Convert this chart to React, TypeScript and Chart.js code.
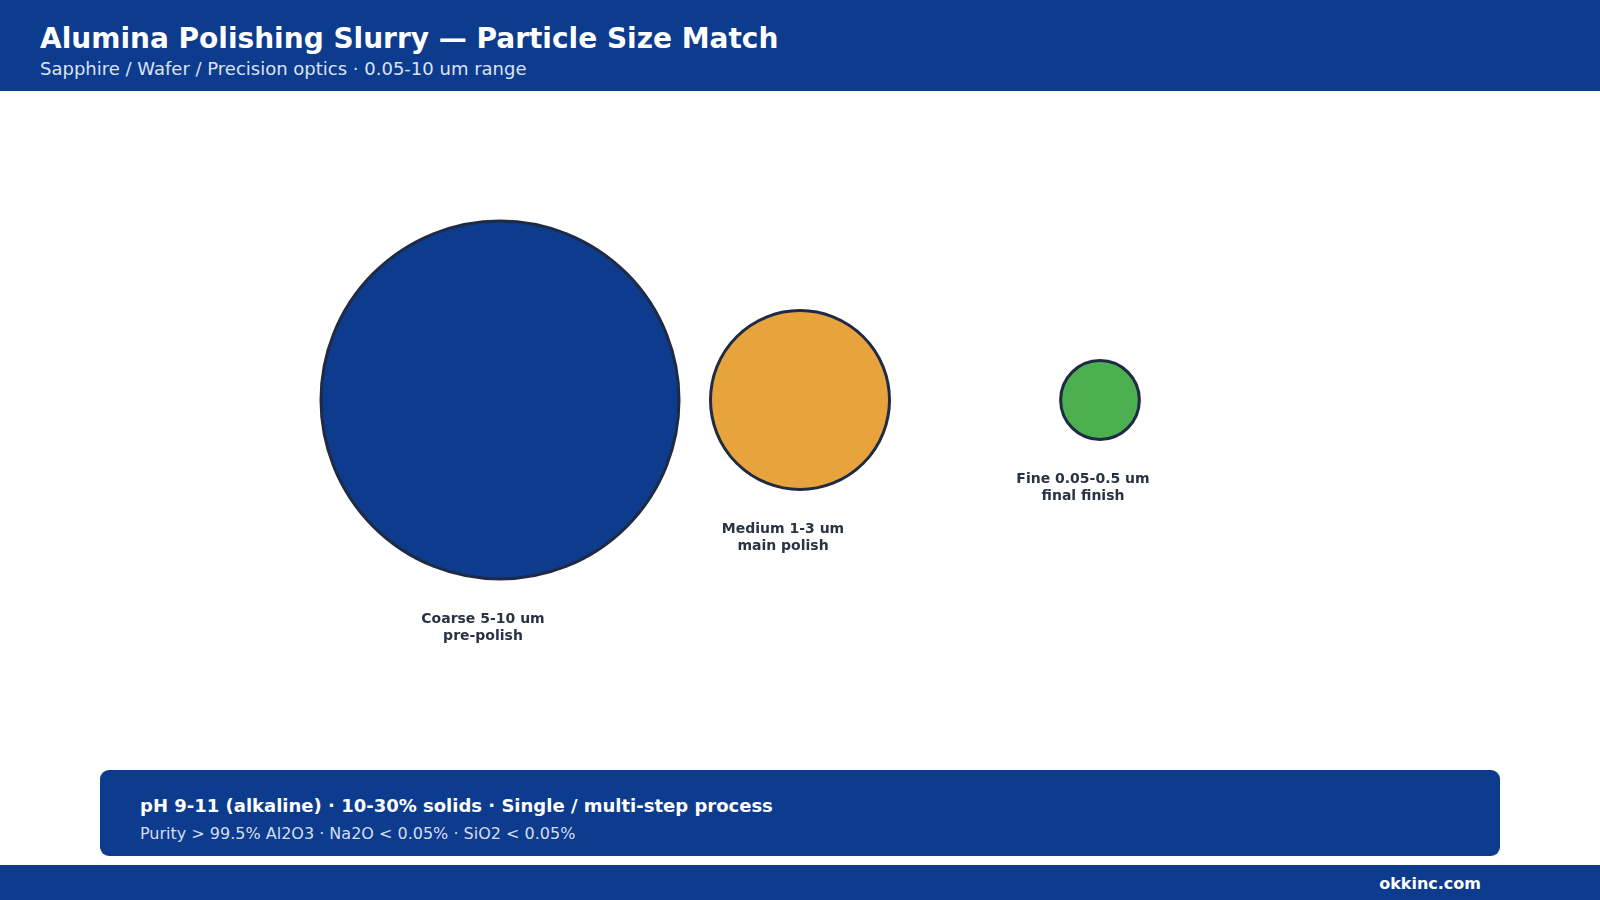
import React, { useEffect, useRef } from "react";
import { Chart, registerables } from "chart.js";

Chart.register(...registerables);

const categories = ["Coarse 5-10 um", "Medium 1-3 um", "Fine 0.05-0.5 um"];
const subLabels = ["pre-polish", "main polish", "final finish"];
const bubbleSize = [10, 5, 2.2];
const fillColors = ["#0d3b8e", "#e8a33d", "#4caf50"];

const TITLE = "Alumina Polishing Slurry \u2014 Particle Size Match";
const SUBTITLE = "Sapphire / Wafer / Precision optics \u00b7 0.05-10 um range";
const NOTE_MAIN = "pH 9-11 (alkaline) \u00b7 10-30% solids \u00b7 Single / multi-step process";
const NOTE_SUB = "Purity > 99.5% Al2O3 \u00b7 Na2O < 0.05% \u00b7 SiO2 < 0.05%";
const SITE = "okkinc.com";

const BLUE = "#0d3b8e";
const FONT = "'DejaVu Sans', Verdana, sans-serif";
const PX_PER_UNIT = 17.9;

const labelPlugin = {
  id: "bubbleLabels",
  afterDatasetsDraw(chart: any) {
    const ctx = chart.ctx;
    const meta = chart.getDatasetMeta(0);
    ctx.save();
    ctx.fillStyle = "#2a3244";
    ctx.font = `bold 14px ${FONT}`;
    ctx.textAlign = "center";
    ctx.textBaseline = "middle";
    meta.data.forEach((el: any, i: number) => {
      const r = el.options.radius;
      const x = el.x - 17;
      const y = el.y + r + 40;
      ctx.fillText(categories[i], x, y);
      ctx.fillText(subLabels[i], x, y + 17);
    });
    ctx.restore();
  },
};

function BubbleChart() {
  const ref = useRef<HTMLCanvasElement | null>(null);
  useEffect(() => {
    if (!ref.current) return;
    const chart = new Chart(ref.current, {
      type: "bubble",
      data: {
        datasets: [
          {
            data: categories.map((_, i) => ({ x: i + 1, y: 1, r: bubbleSize[i] * PX_PER_UNIT })),
            backgroundColor: fillColors,
            borderColor: "#1f2a44",
            borderWidth: 3,
            clip: false,
          },
        ],
      },
      options: {
        animation: false,
        responsive: false,
        devicePixelRatio: 1,
        events: [],
        layout: { padding: 0, autoPadding: false },
        scales: {
          x: { type: "linear", min: 0, max: 4, display: false },
          y: { type: "linear", min: 0, max: 2, display: false },
        },
        plugins: { legend: { display: false }, tooltip: { enabled: false } },
      },
      plugins: [labelPlugin],
    } as any);
    return () => chart.destroy();
  }, []);
  return (
    <canvas
      ref={ref}
      width={1200}
      height={618}
      style={{ position: "absolute", left: 200, top: 91, width: 1200, height: 618 }}
    />
  );
}

export default function App() {
  return (
    <div
      style={{
        position: "absolute",
        left: 0,
        top: 0,
        width: 1600,
        height: 900,
        overflow: "hidden",
        background: "#ffffff",
        fontFamily: FONT,
      }}
    >
      <div style={{ position: "absolute", left: 0, top: 0, width: 1600, height: 91, background: BLUE }}>
        <div
          style={{
            position: "absolute",
            left: 40,
            top: 25,
            fontSize: 28,
            lineHeight: "28px",
            fontWeight: "bold",
            color: "#ffffff",
            whiteSpace: "nowrap",
          }}
        >
          {TITLE}
        </div>
        <div
          style={{
            position: "absolute",
            left: 40,
            top: 60,
            fontSize: 18,
            lineHeight: "18px",
            color: "#dbe3f3",
            whiteSpace: "nowrap",
          }}
        >
          {SUBTITLE}
        </div>
      </div>
      <BubbleChart />
      <div
        style={{
          position: "absolute",
          left: 100,
          top: 770,
          width: 1400,
          height: 86,
          borderRadius: 9,
          background: BLUE,
        }}
      >
        <div
          style={{
            position: "absolute",
            left: 40,
            top: 27,
            fontSize: 18,
            lineHeight: "18px",
            fontWeight: "bold",
            color: "#ffffff",
            whiteSpace: "nowrap",
          }}
        >
          {NOTE_MAIN}
        </div>
        <div
          style={{
            position: "absolute",
            left: 40,
            top: 56,
            fontSize: 16,
            lineHeight: "16px",
            color: "#d5def0",
            whiteSpace: "nowrap",
          }}
        >
          {NOTE_SUB}
        </div>
      </div>
      <div style={{ position: "absolute", left: 0, top: 865, width: 1600, height: 35, background: BLUE }}>
        <div
          style={{
            position: "absolute",
            right: 119,
            top: 11,
            fontSize: 16,
            lineHeight: "16px",
            fontWeight: "bold",
            color: "#ffffff",
            whiteSpace: "nowrap",
          }}
        >
          {SITE}
        </div>
      </div>
    </div>
  );
}
